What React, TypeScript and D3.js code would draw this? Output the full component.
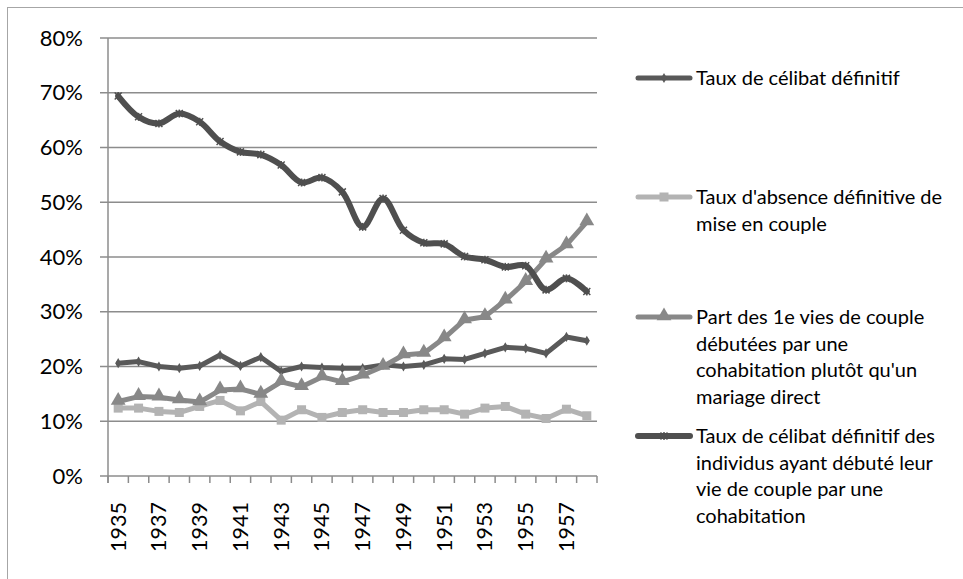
import React from "react";
import * as d3 from "d3";

const years = [1935,1936,1937,1938,1939,1940,1941,1942,1943,1944,1945,1946,1947,1948,1949,1950,1951,1952,1953,1954,1955,1956,1957,1958];
const yTicks = [0,0.1,0.2,0.3,0.4,0.5,0.6,0.7,0.8];

const celibat = [20.6,20.9,20.0,19.7,20.1,22.1,20.1,21.7,19.1,20.0,19.8,19.7,19.7,20.3,20.0,20.3,21.4,21.3,22.4,23.5,23.3,22.4,25.4,24.7];
const absence = [12.4,12.4,11.8,11.6,12.7,13.8,11.9,13.6,10.2,12.1,10.7,11.6,12.1,11.6,11.6,12.1,12.1,11.3,12.4,12.7,11.3,10.5,12.2,11.0];
const cohab = [13.6,14.5,14.4,13.9,13.5,15.7,15.9,14.9,17.2,16.3,18.1,17.2,18.4,20.0,22.1,22.4,25.2,28.5,29.1,32.1,35.5,39.6,42.2,46.4];
const celibatCohab = [69.4,65.6,64.4,66.2,64.7,61.1,59.2,58.7,56.8,53.6,54.5,51.9,45.5,50.7,44.9,42.6,42.4,40.1,39.5,38.2,38.4,34.0,36.1,33.7];

const seriesNames = [
  ["Taux de célibat définitif"],
  ["Taux d'absence définitive de", "mise en couple"],
  ["Part des 1e vies de couple", "débutées par une", "cohabitation plutôt qu'un", "mariage direct"],
  ["Taux de célibat définitif des", "individus ayant débuté leur", "vie de couple par une", "cohabitation"],
];

const FONT = "Lato, 'Open Sans', sans-serif";

type Series = { values: number[]; color: string; marker: string; width: number; smooth: boolean };
const series: Series[] = [
  { values: celibat, color: "#595959", marker: "diamond", width: 5, smooth: false },
  { values: absence, color: "#b3b3b3", marker: "square", width: 5, smooth: false },
  { values: cohab, color: "#888888", marker: "triangle", width: 5, smooth: false },
  { values: celibatCohab, color: "#4f4f4f", marker: "x", width: 6, smooth: true },
];

function Marker({ type, x, y, color }: { type: string; x: number; y: number; color: string }) {
  if (type === "diamond") {
    return <path d={d3.symbol(d3.symbolDiamond, 30)()!} transform={`translate(${x},${y})`} fill={color} />;
  }
  if (type === "square") {
    return <rect x={x - 4.5} y={y - 4.5} width={9} height={9} fill={color} />;
  }
  if (type === "triangle") {
    return <path d={d3.symbol(d3.symbolTriangle, 95)()!} transform={`translate(${x},${y - 1})`} fill={color} />;
  }
  return (
    <g stroke={color} strokeWidth={1.5}>
      <line x1={x - 3.5} y1={y - 3.5} x2={x + 3.5} y2={y + 3.5} />
      <line x1={x - 3.5} y1={y + 3.5} x2={x + 3.5} y2={y - 3.5} />
      <line x1={x} y1={y - 4} x2={x} y2={y + 4} />
    </g>
  );
}

export default function App() {
  const W = 963, H = 579;
  const left = 108, right = 597, top = 38, bottom = 476;
  const x = d3.scaleBand<number>().domain(years).range([left, right]);
  const y = d3.scaleLinear().domain([0, 0.8]).range([bottom, top]);
  const cx = (yr: number) => x(yr)! + x.bandwidth() / 2;

  const legendY = [78, 197, 317, 436];
  const lineH = 26.7;

  return (
    <svg width={W} height={H} style={{ position: "absolute", left: 0, top: 0 }} fontFamily={FONT}>
      <rect x={0} y={0} width={W} height={H} fill="#fff" />
      <rect x={7.5} y={7.5} width={W + 20} height={H + 20} fill="none" stroke="#a6a6a6" strokeWidth={1} />
      {yTicks.map((t) => (
        <g key={t}>
          <line x1={left - 8} x2={right} y1={y(t)} y2={y(t)} stroke="#8c8c8c" strokeWidth={1.5} />
          <text x={83} y={y(t)} dy="0.35em" textAnchor="end" fontSize={22} fill="#000">
            {d3.format(".0%")(t)}
          </text>
        </g>
      ))}
      <line x1={left} x2={left} y1={top} y2={bottom + 7} stroke="#8c8c8c" strokeWidth={1.5} />
      {years.map((yr) => (
        <line key={yr} x1={x(yr)!} x2={x(yr)!} y1={bottom} y2={bottom + 7} stroke="#8c8c8c" strokeWidth={1.5} />
      ))}
      <line x1={right} x2={right} y1={bottom} y2={bottom + 7} stroke="#8c8c8c" strokeWidth={1.5} />
      {years.map((yr, i) =>
        i % 2 === 0 ? (
          <text key={yr} transform={`translate(${cx(yr)},${bottom + 26}) rotate(-90)`} dy="0.35em" textAnchor="end" fontSize={21.5} fill="#000">
            {yr}
          </text>
        ) : null
      )}
      {series.map((s, si) => {
        const line = d3
          .line<number>()
          .x((_, i) => cx(years[i]))
          .y((v) => y(v / 100))
          .curve(s.smooth ? d3.curveCatmullRom.alpha(0.5) : d3.curveLinear);
        return (
          <g key={si}>
            <path d={line(s.values)!} fill="none" stroke={s.color} strokeWidth={s.width} strokeLinejoin="round" strokeLinecap="round" />
            {s.values.map((v, i) => (
              <Marker key={i} type={s.marker} x={cx(years[i])} y={y(v / 100)} color={s.color} />
            ))}
          </g>
        );
      })}
      {series.map((s, si) => (
        <g key={"lg" + si}>
          <line x1={638} x2={690} y1={legendY[si]} y2={legendY[si]} stroke={s.color} strokeWidth={s.width} strokeLinecap="round" />
          <Marker type={s.marker} x={664} y={legendY[si]} color={s.color} />
          {seriesNames[si].map((t, li) => (
            <text key={li} x={696} y={legendY[si] + li * lineH} dy="0.35em" fontSize={20} fill="#000">
              {t}
            </text>
          ))}
        </g>
      ))}
    </svg>
  );
}
